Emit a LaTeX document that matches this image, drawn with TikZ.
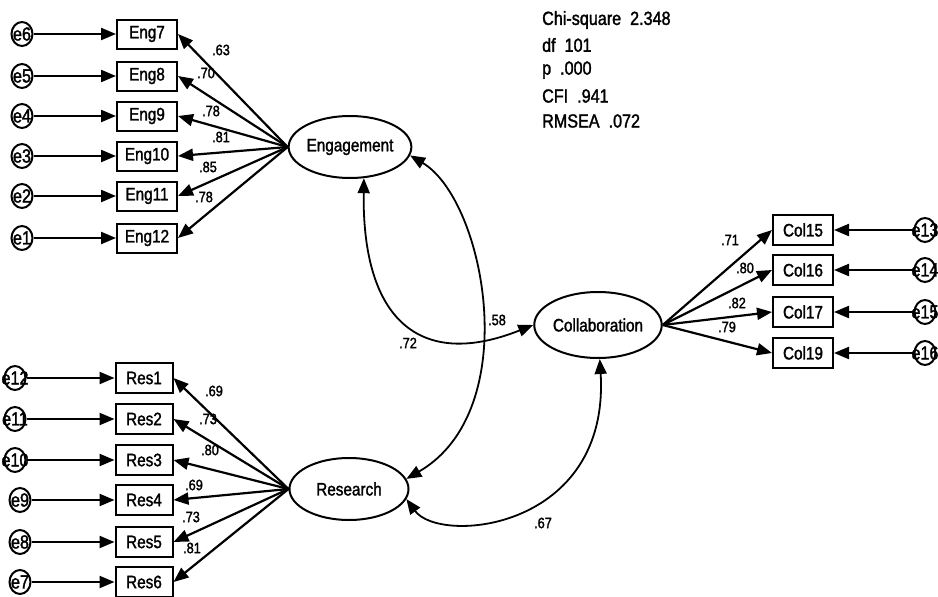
\documentclass[tikz,border=0pt]{standalone}
\usepackage{fontspec}
\setmainfont{Liberation Sans}[FakeStretch=0.85,FakeBold=1.6]
\usetikzlibrary{arrows.meta,shapes.geometric}
\begin{document}
\begin{tikzpicture}[x=1pt,y=-1pt,
  obs/.style={draw,line width=2pt,minimum width=60pt,minimum height=29pt,inner sep=0pt,font=\fontsize{18}{18}\selectfont},
  lat/.style={draw,ellipse,line width=2pt,minimum width=121pt,minimum height=62pt,inner sep=0pt,font=\fontsize{18}{18}\selectfont},
  err/.style={draw,ellipse,line width=2pt,minimum width=21pt,minimum height=24pt,inner sep=0pt},
  errtxt/.style={inner sep=0pt,font=\fontsize{19}{19}\selectfont},
  arr/.style={line width=2.2pt,-{Triangle[length=15pt,width=12pt]}},
  cov/.style={line width=1.8pt,{Triangle[length=15pt,width=12pt]}-{Triangle[length=15pt,width=12pt]}},
  lab/.style={font=\fontsize{15}{15}\selectfont,inner sep=0pt},
  stat/.style={font=\fontsize{19}{19}\selectfont,anchor=west,inner sep=0pt}]
\useasboundingbox (0,0) rectangle (938,597);

% latent variables
\node[lat] (Eng) at (350,147) {Engagement};
\node[lat,minimum width=119pt] (Res) at (349,489) {Research};
\node[lat,minimum width=123pt,minimum height=66pt] (Col) at (598,325) {Collaboration};

% Engagement indicators
\foreach \n/\e/\y in {7/6/34,8/5/76,9/4/116,10/3/156,11/2/196,12/1/238}{
  \node[obs] (E\n) at (147,\y) {Eng\n};
  \node[err,label={[errtxt]center:e\e}] (ee\e) at (22,\y) {};
  \draw[arr] (ee\e) -- (E\n);
  \draw[arr] (Eng.west) -- (E\n.east);
}
% Research indicators
\foreach \n/\e/\x/\y in {1/12/15/378,2/11/15/419,3/10/15/460,4/9/20/500,5/8/20/542,6/7/20/582}{
  \node[obs,minimum width=57pt,minimum height=30pt] (R\n) at (144,\y) {Res\n};
  \node[err,label={[errtxt]center:e\e}] (er\e) at (\x,\y) {};
  \draw[arr] (er\e) -- (R\n);
  \draw[arr] (Res.west) -- (R\n.east);
}
% Collaboration indicators
\foreach \n/\e/\y in {15/13/230,16/14/270,17/15/312,19/16/353}{
  \node[obs,minimum height=30pt] (C\n) at (803,\y) {Col\n};
  \node[err,label={[errtxt]center:e\e}] (ec\e) at (925,\y) {};
  \draw[arr] (ec\e) -- (C\n);
  \draw[arr] (Col.east) -- (C\n.west);
}

% loading labels
\node[lab] at (221,50) {.63};
\node[lab] at (206,73) {.70};
\node[lab] at (211,111) {.78};
\node[lab] at (221,137) {.81};
\node[lab] at (208,167) {.85};
\node[lab] at (204,197) {.78};

\node[lab] at (214,391) {.69};
\node[lab] at (208,419) {.73};
\node[lab] at (210,450) {.80};
\node[lab] at (194,485) {.69};
\node[lab] at (191,517) {.73};
\node[lab] at (192,548) {.81};

\node[lab] at (730,240) {.71};
\node[lab] at (745,268) {.80};
\node[lab] at (737,303) {.82};
\node[lab] at (727,327) {.79};

% covariances
\draw[cov] (Eng.-66) .. controls (362,320) and (420,370) .. (Col.west);
\draw[cov] (Eng.-8) .. controls (485,200) and (525,410) .. (Res.10);
\draw[cov] (Res.-10) .. controls (440,545) and (610,530) .. (Col.-87);
\node[lab] at (408,343) {.72};
\node[lab] at (497,320) {.58};
\node[lab] at (543,523) {.67};

% fit statistics
\node[stat] (s1) at (542,20) {Chi-square\ \ 2.348};
\node[stat] (s2) at (542,45) {df\ \ 101};
\node[stat] (s3) at (542,70) {p\ \ .000};
\node[stat] (s4) at (542,96) {CFI\ \ .941};
\node[stat] (s5) at (542,121) {RMSEA\ \ .072};
\end{tikzpicture}
\end{document}
